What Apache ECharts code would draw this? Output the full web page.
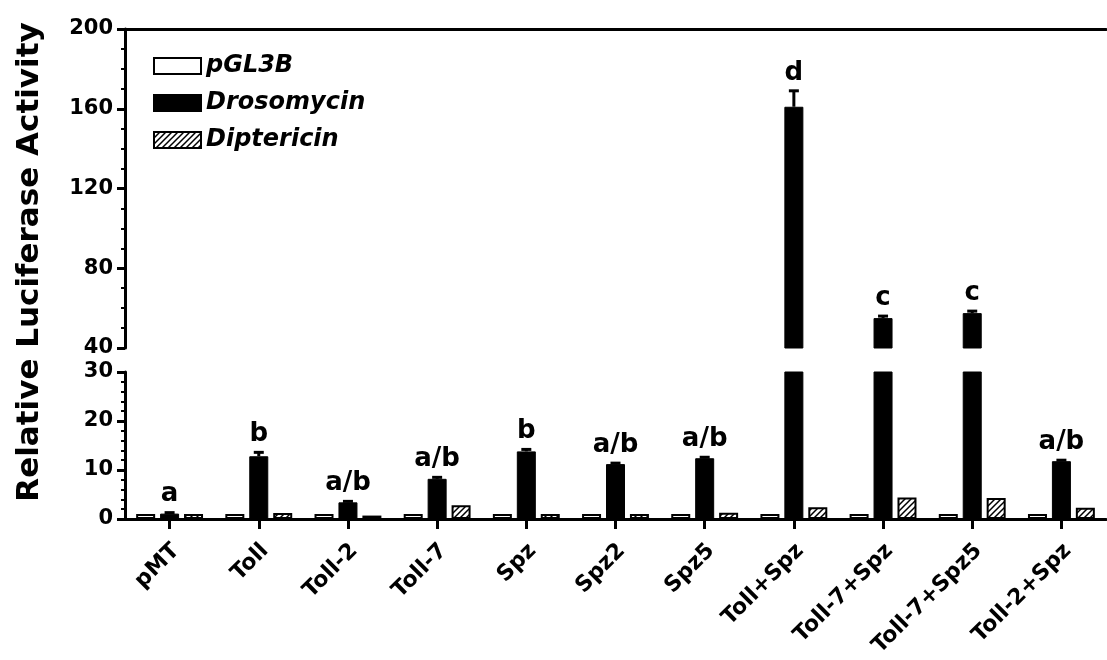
<!DOCTYPE html>
<html>
<head>
<meta charset="utf-8">
<script src="https://cdn.jsdelivr.net/npm/echarts@6/dist/echarts.min.js"></script>
<style>
  html, body { margin: 0; padding: 0; background: #fff; }
  #chart { width: 1107px; height: 660px; }
</style>
</head>
<body>
<div id="chart"></div>
<script>
// Luciferase reporter activity, per construct
const categories = ['pMT', 'Toll', 'Toll-2', 'Toll-7', 'Spz', 'Spz2', 'Spz5',
  'Toll+Spz', 'Toll-7+Spz', 'Toll-7+Spz5', 'Toll-2+Spz'];
const pGL3B = [1.0, 1.0, 1.0, 1.0, 1.0, 1.0, 1.0, 1.0, 1.0, 1.0, 1.0];
const drosomycin = [1.1, 12.8, 3.4, 8.2, 13.8, 11.2, 12.4, 161, 55, 57.5, 11.8];
const drosomycinErr = [0.2, 0.8, 0.2, 0.3, 0.4, 0.2, 0.2, 8, 1, 1, 0.2];
const diptericin = [1.0, 1.2, 0.7, 2.8, 1.0, 1.0, 1.3, 2.4, 4.4, 4.3, 2.3];
const groupLetters = ['a', 'b', 'a/b', 'a/b', 'b', 'a/b', 'a/b', 'd', 'c', 'c', 'a/b'];

// broken value axis: lower segment 0–30, upper segment 40–200
const lowerMax = 30;
const upperMin = 40;
const upperMax = 200;

const FONT = '"DejaVu Sans", "Liberation Sans", Arial, sans-serif';

// diagonal hatch used for Diptericin
function hatchPattern() {
  const c = document.createElement('canvas');
  c.width = 6; c.height = 6;
  const g = c.getContext('2d');
  g.fillStyle = '#fff';
  g.fillRect(0, 0, 6, 6);
  g.strokeStyle = '#000';
  g.lineWidth = 1.5;
  g.beginPath();
  g.moveTo(0, 6); g.lineTo(6, 0);
  g.moveTo(-1, 1); g.lineTo(1, -1);
  g.moveTo(5, 7); g.lineTo(7, 5);
  g.stroke();
  return { image: c, repeat: 'repeat' };
}
const hatch = hatchPattern();

const chart = echarts.init(document.getElementById('chart'), null, { renderer: 'canvas' });

const axisLineStyle = { color: '#000', width: 3 };
const tickLabel = { color: '#000', fontSize: 21, fontWeight: 'bold', fontFamily: FONT, margin: 12 };

const styles = {
  pGL3B: { color: '#fff', borderColor: '#000', borderWidth: 2 },
  Drosomycin: { color: '#000', borderColor: '#000', borderWidth: 1 },
  Diptericin: { color: hatch, borderColor: '#000', borderWidth: 2 }
};

function barSeries(name, values, gridIdx) {
  const data = gridIdx === 0
    ? values.map(v => (v > lowerMax ? v : '-'))
    : values;
  return {
    type: 'bar',
    name: name,
    xAxisIndex: gridIdx,
    yAxisIndex: gridIdx,
    data: data,
    barWidth: 19,
    barGap: '26%',
    clip: true,
    itemStyle: styles[name],
    emphasis: { disabled: true },
    animation: false
  };
}

// error bar + significance letter above each Drosomycin bar
function errorSeries(gridIdx) {
  return {
    type: 'custom',
    xAxisIndex: gridIdx,
    yAxisIndex: gridIdx,
    data: drosomycin.map((v, i) => [i, v, drosomycinErr[i]]),
    encode: { x: 0, y: 1 },
    z: 5,
    silent: true,
    animation: false,
    renderItem: function (params, api) {
      const i = api.value(0);
      const v = api.value(1);
      const e = api.value(2);
      const inUpper = v > lowerMax;
      if ((gridIdx === 0) !== inUpper) return null;
      const base = api.coord([i, v]);
      const tip = api.coord([i, v + e]);
      return {
        type: 'group',
        children: [
          { type: 'line', shape: { x1: base[0], y1: base[1], x2: tip[0], y2: tip[1] },
            style: { stroke: '#000', lineWidth: 3 } },
          { type: 'line', shape: { x1: tip[0] - 5, y1: tip[1], x2: tip[0] + 5, y2: tip[1] },
            style: { stroke: '#000', lineWidth: 3 } },
          { type: 'text', x: tip[0], y: tip[1] - 5,
            style: { text: groupLetters[i], align: 'center', verticalAlign: 'bottom',
              fontSize: 26, fontWeight: 'bold', fontFamily: FONT, fill: '#000' } }
        ]
      };
    }
  };
}

const option = {
  backgroundColor: '#fff',
  animation: false,
  legend: {
    orient: 'vertical',
    left: 153,
    top: 52,
    padding: 0,
    itemWidth: 47,
    itemHeight: 16,
    itemGap: 9,
    icon: 'rect',
    selectedMode: false,
    data: ['pGL3B', 'Drosomycin', 'Diptericin'],
    textStyle: { color: '#000', fontSize: 24, fontWeight: 'bold', fontStyle: 'italic', fontFamily: FONT, lineHeight: 28 }
  },
  graphic: [{
    type: 'text',
    x: 30,
    y: 262,
    rotation: Math.PI / 2,
    style: {
      text: 'Relative Luciferase Activity',
      align: 'center',
      verticalAlign: 'middle',
      fontSize: 31,
      fontWeight: 'bold',
      fontFamily: FONT,
      fill: '#000'
    }
  }],
  grid: [
    { left: 125, right: 1, top: 29, height: 319 },
    { left: 125, right: 1, top: 372, height: 147 }
  ],
  xAxis: [
    {
      type: 'category', gridIndex: 0, data: categories, position: 'top',
      axisLine: { show: true, lineStyle: axisLineStyle },
      axisTick: { show: false }, axisLabel: { show: false }
    },
    {
      type: 'category', gridIndex: 1, data: categories, position: 'bottom',
      axisLine: { show: true, lineStyle: axisLineStyle },
      axisTick: { show: true, alignWithLabel: true, interval: 0, length: 10, lineStyle: axisLineStyle },
      axisLabel: Object.assign({}, tickLabel, {
        rotate: 45, interval: 0, fontSize: 22, margin: 22,
        verticalAlign: 'top', lineHeight: 18
      })
    }
  ],
  yAxis: [
    {
      type: 'value', gridIndex: 0, min: upperMin, max: upperMax, interval: 40,
      axisLine: { show: true, lineStyle: axisLineStyle },
      axisTick: { show: true, length: 8, lineStyle: axisLineStyle },
      minorTick: { show: true, splitNumber: 4, length: 4, lineStyle: { color: '#000', width: 2 } },
      splitLine: { show: false },
      axisLabel: tickLabel
    },
    {
      type: 'value', gridIndex: 1, min: 0, max: lowerMax, interval: 10,
      axisLine: { show: true, lineStyle: axisLineStyle },
      axisTick: { show: true, length: 8, lineStyle: axisLineStyle },
      minorTick: { show: true, splitNumber: 5, length: 4, lineStyle: { color: '#000', width: 2 } },
      splitLine: { show: false },
      axisLabel: tickLabel
    }
  ],
  series: [
    barSeries('pGL3B', pGL3B, 0),
    barSeries('Drosomycin', drosomycin, 0),
    barSeries('Diptericin', diptericin, 0),
    barSeries('pGL3B', pGL3B, 1),
    barSeries('Drosomycin', drosomycin, 1),
    barSeries('Diptericin', diptericin, 1),
    errorSeries(0),
    errorSeries(1)
  ]
};

chart.setOption(option);
</script>
</body>
</html>
